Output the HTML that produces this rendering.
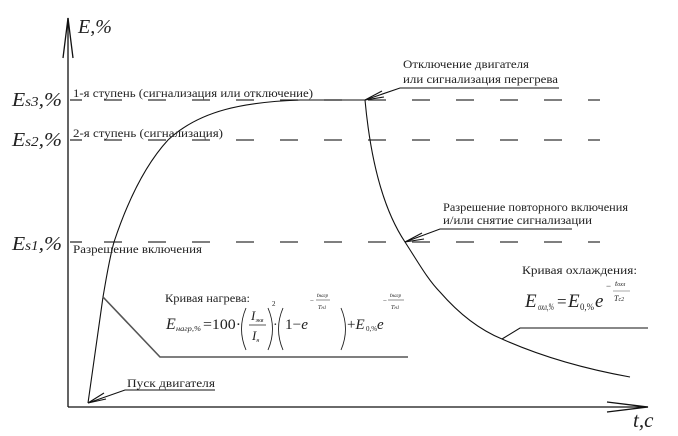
<!DOCTYPE html>
<html><head><meta charset="utf-8"><style>
html,body{margin:0;padding:0;background:#fff;}
svg{display:block;}
text{font-family:"Liberation Serif","DejaVu Serif","Times New Roman",serif;fill:#222;}
.i{font-style:italic;}
</style></head><body>
<svg width="678" height="436" viewBox="0 0 678 436" xmlns="http://www.w3.org/2000/svg">
<g stroke="#111" stroke-width="1.3" fill="none">
<line x1="68" y1="18" x2="68" y2="407"/>
<line x1="68" y1="407" x2="648" y2="407"/>
<polyline points="63,58 68,18 73,58"/>
<polyline points="607,402 648,407 607,412"/>
</g>
<g stroke="#333" stroke-width="1.3">
<g stroke-dasharray="18 26">
<line x1="104" y1="100" x2="600" y2="100"/>
<line x1="104" y1="140" x2="600" y2="140"/>
<line x1="104" y1="242" x2="600" y2="242"/>
</g>
<line x1="70" y1="100" x2="82" y2="100"/>
<line x1="70" y1="140" x2="82" y2="140"/>
<line x1="70" y1="242" x2="82" y2="242"/>
</g>
<g stroke="#111" stroke-width="1.1" fill="none">
<path d="M88,403 L103,297 C106,280 109,260 114,242 C128,200 145,165 168,140 C200,110 245,102 300,100 L365,100"/>
<path d="M365,100 C371,165 385,212 405,242 C418,262 428,280 440,292 C460,315 480,330 502,339 C540,356 580,368 630,377"/>
<polyline points="103,297 160,357 408,357" stroke="#555" stroke-width="1.6"/>
<polyline points="502,339 520,328 648,328"/>
<polyline points="88,403 125,390 215,390"/>
<polyline points="365,100 400,88 559,88"/>
<polyline points="405,242 440,229 572,229"/>
<polyline points="382,91 365,100 384,97"/>
<polyline points="422,233 405,242 424,239"/>
<polyline points="104,393 88,403 106,399"/>
</g>
<text x="78" y="33" class="i" font-size="20">E,%</text>
<text x="12" y="106" class="i" font-size="20" textLength="50" lengthAdjust="spacingAndGlyphs">E<tspan font-size="14">s3</tspan>,%</text>
<text x="12" y="146" class="i" font-size="20" textLength="50" lengthAdjust="spacingAndGlyphs">E<tspan font-size="14">s2</tspan>,%</text>
<text x="12" y="250" class="i" font-size="20" textLength="50" lengthAdjust="spacingAndGlyphs">E<tspan font-size="14">s1</tspan>,%</text>
<text x="73" y="97" font-size="12" textLength="240" lengthAdjust="spacingAndGlyphs">1-я ступень (сигнализация или отключение)</text>
<text x="73" y="137" font-size="12" textLength="150" lengthAdjust="spacingAndGlyphs">2-я ступень (сигнализация)</text>
<text x="73" y="253" font-size="12" textLength="129" lengthAdjust="spacingAndGlyphs">Разрешение включения</text>
<text x="403" y="68" font-size="12" textLength="126" lengthAdjust="spacingAndGlyphs">Отключение двигателя</text>
<text x="403" y="83" font-size="12" textLength="155" lengthAdjust="spacingAndGlyphs">или сигнализация перегрева</text>
<text x="443" y="211" font-size="12" textLength="185" lengthAdjust="spacingAndGlyphs">Разрешение повторного включения</text>
<text x="443" y="224" font-size="12" textLength="149" lengthAdjust="spacingAndGlyphs">и/или снятие сигнализации</text>
<text x="522" y="274" font-size="12" textLength="115" lengthAdjust="spacingAndGlyphs">Кривая охлаждения:</text>
<text x="165" y="302" font-size="12" textLength="85" lengthAdjust="spacingAndGlyphs">Кривая нагрева:</text>
<text x="127" y="387" font-size="12" textLength="88" lengthAdjust="spacingAndGlyphs">Пуск двигателя</text>
<text x="633" y="427" class="i" font-size="21">t,c</text>
<!-- cooling formula -->
<text x="525" y="307" class="i" font-size="19">E</text>
<text x="538" y="310" class="i" font-size="9" textLength="16" lengthAdjust="spacingAndGlyphs">охл,%</text>
<text x="557" y="307" font-size="17">=</text>
<text x="568" y="307" class="i" font-size="19">E</text>
<text x="580" y="310" font-size="9" textLength="14" lengthAdjust="spacingAndGlyphs">0,%</text>
<text x="595" y="307" class="i" font-size="19">e</text>
<text x="606" y="289" font-size="9">−</text>
<text x="615" y="286" font-size="8" class="i">t<tspan font-size="6">охл</tspan></text>
<line x1="613" y1="291" x2="630" y2="291" stroke="#555" stroke-width="0.6"/>
<text x="614" y="301" font-size="8" class="i">T<tspan font-size="6">с2</tspan></text>
<!-- heating formula -->
<g stroke="#222" stroke-width="0.9" fill="none">
<path d="M246,308 Q237,329 246,350"/>
<path d="M268,308 Q277,329 268,350"/>
<path d="M283,308 Q274,329 283,350"/>
<path d="M341,308 Q350,329 341,350"/>
<line x1="249" y1="325" x2="266" y2="325" stroke-width="0.7"/>
<line x1="316" y1="300" x2="330" y2="300" stroke-width="0.5"/>
<line x1="388" y1="300" x2="404" y2="300" stroke-width="0.5"/>
</g>
<text x="166" y="329" class="i" font-size="16">E</text>
<text x="176" y="331" class="i" font-size="7" textLength="25" lengthAdjust="spacingAndGlyphs">нагр,%</text>
<text x="203" y="329" font-size="15" textLength="38" lengthAdjust="spacingAndGlyphs">=100·</text>
<text x="251" y="320" class="i" font-size="13">I<tspan font-size="6" dy="2">экв</tspan></text>
<text x="252" y="340" class="i" font-size="13">I<tspan font-size="6" dy="2">н</tspan></text>
<text x="272" y="306" font-size="7">2</text>
<text x="273" y="329" font-size="14">·</text>
<text x="285" y="329" font-size="15" textLength="23" lengthAdjust="spacingAndGlyphs">1−<tspan class="i">e</tspan></text>
<text x="310" y="303" font-size="7">−</text>
<text x="317" y="297" font-size="6" class="i">t<tspan font-size="5">нагр</tspan></text>
<text x="318" y="309" font-size="6" class="i">T<tspan font-size="5">н1</tspan></text>
<text x="347" y="329" font-size="15">+<tspan class="i">E</tspan></text>
<text x="366" y="331" font-size="7">0,%</text>
<text x="377" y="329" class="i" font-size="15">e</text>
<text x="383" y="303" font-size="7">−</text>
<text x="390" y="297" font-size="6" class="i">t<tspan font-size="5">нагр</tspan></text>
<text x="391" y="309" font-size="6" class="i">T<tspan font-size="5">н1</tspan></text>
</svg>
</body></html>
